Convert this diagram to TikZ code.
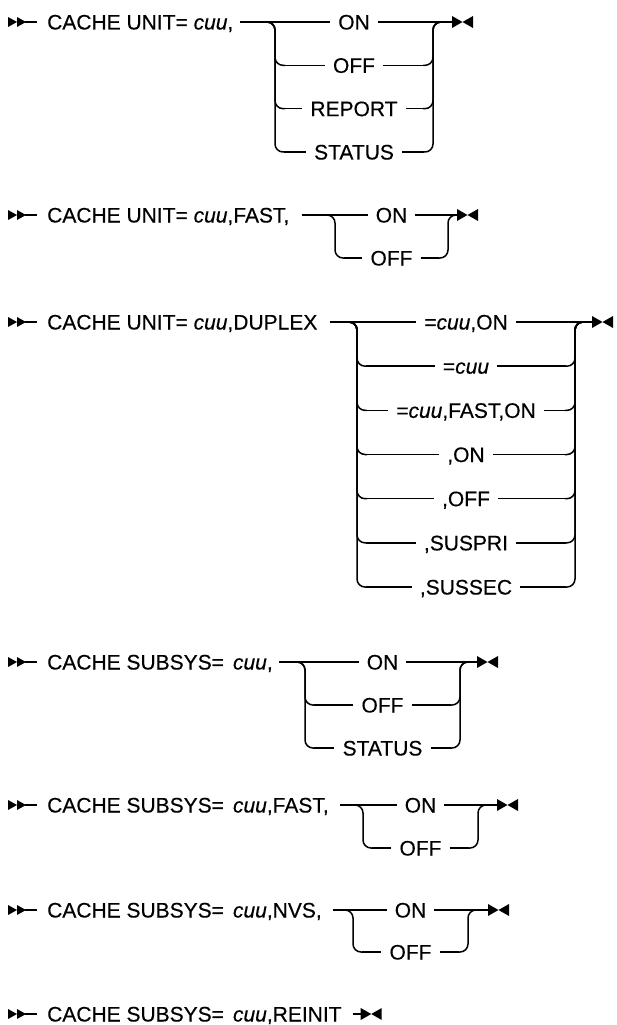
\documentclass[tikz,border=0pt]{standalone}
\usepackage{fontspec}
\setmainfont[FakeBold=0.35]{Liberation Sans}
\newcommand\fs{\fontsize{21}{25}\selectfont}
\tikzset{
  rail/.style={line width=1.5pt},
  railr/.style={rail, rounded corners=8pt},
  lbl/.style={font=\fs, anchor=base, inner xsep=8pt, inner ysep=0pt},
  head/.style={font=\fs, anchor=base west, inner sep=0pt},
  startmk/.pic={
    \fill (0,-5) -- (9,0) -- (0,5) -- cycle;
    \fill (9,-5) -- (18,0) -- (9,5) -- cycle;
    \draw[rail] (17,0) -- (29,0);
  },
  endmk/.pic={
    \fill (0,-6) -- (10.5,0) -- (0,6) -- cycle;
    \fill (21,-6) -- (10.5,0) -- (21,6) -- cycle;
  },
}
% #1 name prefix, #2 left vertical x, #3 right vertical x, #4 first row y, #5 row step, #6 labels
\newcommand\grp[6]{%
  \foreach \t [count=\i from 0] in {#6} {
    \pgfmathsetmacro\yy{#4+\i*#5}
    \node[lbl] (#1\i) at ({(#2+#3)/2},\yy+7.5) {\t};
    \ifnum\i>0
      \draw[railr] (#2-10,#4) -| (#2,\yy) -- (#2+10,\yy);
      \draw[railr] (#3-10,\yy) -| (#3,#4) -- (#3+10,#4);
      \draw[rail] (#2+9,\yy) -- ([yshift=7.5pt]#1\i.base west);
      \draw[rail] ([yshift=7.5pt]#1\i.base east) -- (#3-9,\yy);
    \fi
  }
}
% #1 label node, #2 y, #3 head node, #4 gap after head, #5 end-marker x
\newcommand\mainrow[5]{%
  \draw[rail] ([xshift=#4pt,yshift=7.5pt]#3.base east) -- ([yshift=7.5pt]#1.base west);
  \draw[rail] ([yshift=7.5pt]#1.base east) -- (#5,#2);
  \pic at (#5,#2) {endmk};
}
\begin{document}
\begin{tikzpicture}[x=1pt,y=-1pt]
\useasboundingbox (0,0) rectangle (617,1025);

% ---- 1
\pic at (8,22) {startmk};
\node[head] (h1) at (47,29.5) {CACHE UNIT= \textit{cuu},};
\grp{a}{275}{433}{22}{43.33}{ON,OFF,REPORT,STATUS}
\mainrow{a0}{22}{h1}{6}{452}

% ---- 2
\pic at (8,215) {startmk};
\node[head] (h2) at (47,222.5) {CACHE UNIT= \textit{cuu},FAST,};
\grp{b}{335}{448}{215}{43}{ON,OFF}
\mainrow{b0}{215}{h2}{12}{457}

% ---- 3
\pic at (8,322) {startmk};
\node[head] (h3) at (47,329.5) {CACHE UNIT= \textit{cuu},DUPLEX};
\grp{c}{357}{575}{322}{44.17}{{=\textit{cuu},ON},{=\textit{cuu}},{=\textit{cuu},FAST,ON},{,ON},{,OFF},{,SUSPRI},{,SUSSEC}}
\mainrow{c0}{322}{h3}{12}{592}

% ---- 4
\pic at (8,662) {startmk};
\node[head] (h4) at (47,669.5) {CACHE SUBSYS=\hspace{9pt}\textit{cuu},};
\grp{d}{305}{460}{662}{43}{ON,OFF,STATUS}
\mainrow{d0}{662}{h4}{6}{477}

% ---- 5
\pic at (8,805) {startmk};
\node[head] (h5) at (47,812.5) {CACHE SUBSYS=\hspace{9pt}\textit{cuu},FAST,};
\grp{e}{363}{478}{805}{43}{ON,OFF}
\mainrow{e0}{805}{h5}{11}{497}

% ---- 6
\pic at (8,910) {startmk};
\node[head] (h6) at (47,917.5) {CACHE SUBSYS=\hspace{9pt}\textit{cuu},NVS,};
\grp{f}{353}{468}{910}{42}{ON,OFF}
\mainrow{f0}{910}{h6}{11}{488}

% ---- 7
\pic at (8,1014) {startmk};
\node[head] (h7) at (47,1021.5) {CACHE SUBSYS=\hspace{9pt}\textit{cuu},REINIT};
\draw[rail] ([xshift=11pt,yshift=7.5pt]h7.base east) -- ++(8,0) coordinate (g0);
\pic at (g0) {endmk};
\end{tikzpicture}
\end{document}
